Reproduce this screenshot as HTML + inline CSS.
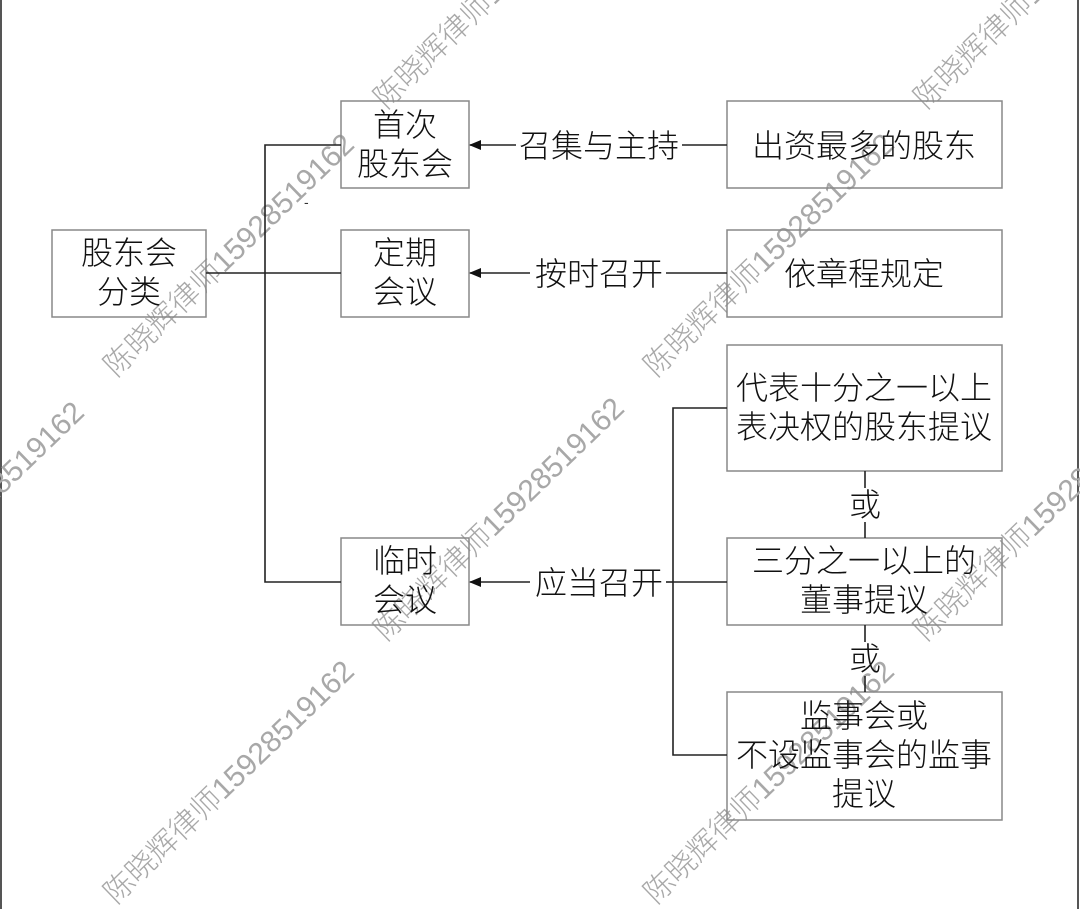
<!DOCTYPE html>
<html><head><meta charset="utf-8"><style>
html,body{margin:0;padding:0;background:#fff;}
svg{display:block}
.t{font-family:"Liberation Sans","Noto Sans CJK SC",sans-serif;font-size:32px;fill:#111;text-anchor:middle;font-weight:300}
.w{font-family:"Liberation Sans","Noto Sans CJK SC",sans-serif;font-size:30px;fill:#a8a8a8;font-weight:300}
</style></head><body>
<svg width="1080" height="909" viewBox="0 0 1080 909" xmlns="http://www.w3.org/2000/svg">
<defs><marker id="a" markerWidth="12" markerHeight="10" refX="11" refY="5" orient="auto" markerUnits="userSpaceOnUse"><path d="M0,0 L12,5 L0,10 z" fill="#111"/></marker></defs>
<line x1="1" y1="0" x2="1" y2="909" stroke="#555" stroke-width="2"/>
<line x1="1078" y1="0" x2="1078" y2="909" stroke="#555" stroke-width="2"/>
<g class="w">
<text transform="translate(116,378) rotate(-44)">陈晓辉律师15928519162</text>
<text transform="translate(386,642) rotate(-44)">陈晓辉律师15928519162</text>
<text transform="translate(656,378) rotate(-44)">陈晓辉律师15928519162</text>
<text transform="translate(926,110) rotate(-44)">陈晓辉律师15928519162</text>
<text transform="translate(386,110) rotate(-44)">陈晓辉律师15928519162</text>
<text transform="translate(116,905) rotate(-44)">陈晓辉律师15928519162</text>
<text transform="translate(656,905) rotate(-44)">陈晓辉律师15928519162</text>
<text transform="translate(926,642) rotate(-44)">陈晓辉律师15928519162</text>
<text transform="translate(-154,646) rotate(-44)">陈晓辉律师15928519162</text>
</g>
<g fill="none" stroke="#888" stroke-width="1.5">
<rect x="52" y="230" width="154" height="87"/>
<rect x="341" y="101" width="128" height="87"/>
<rect x="341" y="230" width="128" height="87"/>
<rect x="341" y="538" width="128" height="87"/>
<rect x="727" y="101" width="275" height="87"/>
<rect x="727" y="230" width="275" height="87"/>
<rect x="727" y="345" width="275" height="126"/>
<rect x="727" y="538" width="275" height="87"/>
<rect x="727" y="692" width="275" height="128"/>
</g>
<g stroke="#222" stroke-width="1.6" fill="none">
<polyline points="341,145 265,145 265,582 341,582"/>
<line x1="206" y1="273" x2="341" y2="273"/>
<polyline points="727,408 673,408 673,755 727,755"/>
<line x1="673" y1="582" x2="727" y2="582"/>
<line x1="727" y1="145" x2="682" y2="145"/><line x1="516" y1="145" x2="470" y2="145" marker-end="url(#a)"/>
<line x1="727" y1="273" x2="666" y2="273"/><line x1="530" y1="273" x2="470" y2="273" marker-end="url(#a)"/>
<line x1="673" y1="582" x2="666" y2="582"/><line x1="530" y1="582" x2="470" y2="582" marker-end="url(#a)"/>
<line x1="865" y1="471" x2="865" y2="488"/><line x1="865" y1="522" x2="865" y2="538"/>
<line x1="865" y1="625" x2="865" y2="642"/><line x1="865" y1="676" x2="865" y2="692"/>
</g>
<g class="t">
<text x="129" y="264">股东会</text><text x="129" y="303">分类</text>
<text x="405" y="136">首次</text><text x="405" y="175">股东会</text>
<text x="405" y="264">定期</text><text x="405" y="303">会议</text>
<text x="405" y="572">临时</text><text x="405" y="611">会议</text>
<text x="599" y="157">召集与主持</text>
<text x="599" y="285">按时召开</text>
<text x="599" y="594">应当召开</text>
<text x="864" y="157">出资最多的股东</text>
<text x="864" y="285">依章程规定</text>
<text x="864" y="399">代表十分之一以上</text><text x="864" y="438">表决权的股东提议</text>
<text x="865" y="516">或</text>
<text x="864" y="572">三分之一以上的</text><text x="864" y="611">董事提议</text>
<text x="865" y="670">或</text>
<text x="864" y="727">监事会或</text><text x="864" y="766">不设监事会的监事</text><text x="864" y="805">提议</text>
</g>
<text x="304" y="207" font-size="14" fill="#333" font-family="Liberation Sans,sans-serif">-</text>
</svg>
</body></html>
